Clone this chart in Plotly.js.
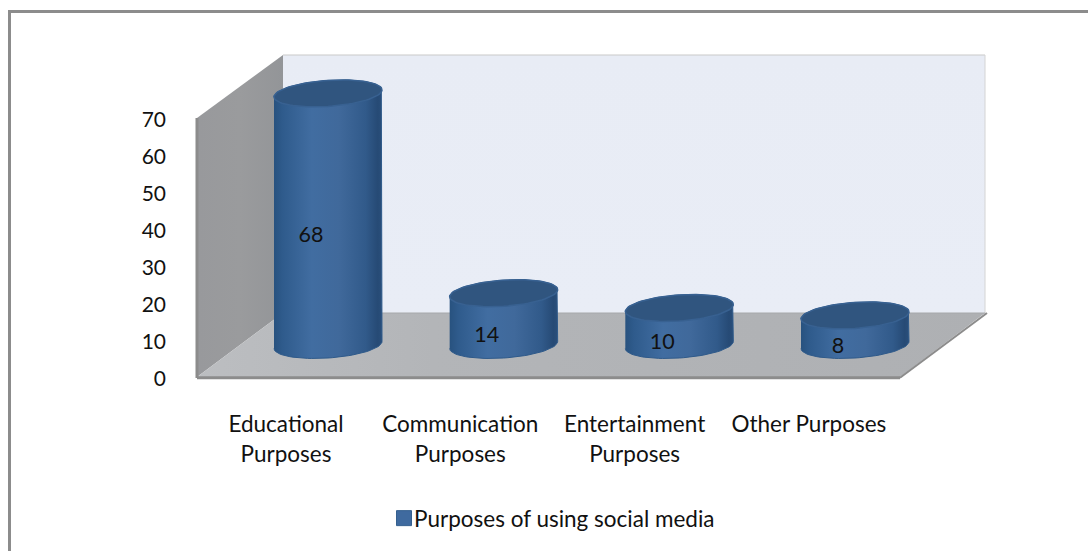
<!DOCTYPE html>
<html>
<head>
<meta charset="utf-8">
<script src="https://cdn.plot.ly/plotly-3.0.1.min.js"></script>
<style>html,body{margin:0;padding:0;background:#fff}#chart{width:1088px;height:551px}</style>
</head>
<body>
<div id="chart"></div>
<script>
// Purposes of using social media, drawn as a pseudo-3D cylinder column chart.
const categories = ["Educational<br>Purposes", "Communication<br>Purposes", "Entertainment<br>Purposes", "Other Purposes"];
const values = [68, 14, 10, 8];
const yTicks = [0, 10, 20, 30, 40, 50, 60, 70];
const seriesName = "Purposes of using social media";

const W = 1088, H = 551;
// The box: front-left corner is the origin, back wall sets the far corner.
const left = 197, right = 985, top_ = 55, bottom = 377;
// Subplot is a little larger than the box so its edges are not clipped.
const plotL = 187, plotR = 995, plotT = 45, plotB = 387;
const pxPerUnitY = (377 - 118) / 70;
const pxPerCat = 175.67;
const firstCentre = 328;
const xAt = px => (px - firstCentre) / pxPerCat;
const yAt = py => (bottom - py) / pxPerUnitY;
const xMin = xAt(left), xMax = xAt(right), yMax = yAt(top_);

// Projection depth of the box, in screen pixels.
const depthX = 86, depthY = 64;
const ddx = depthX / pxPerCat, ddy = depthY / pxPerUnitY;
const floorW = (900 - left) / pxPerCat;
const wallTop = 70;

// Cylinder cross-section: a sheared ellipse, in screen pixels.
const rA = 54, rB = 13, rK = 3.5;
const baseY = 32 / pxPerUnitY;
const arc = (cx, cy, t0, t1, n) => {
  const xs = [], ys = [];
  for (let i = 0; i <= n; i++) {
    const t = t0 + (t1 - t0) * i / n;
    xs.push(cx + rA * Math.cos(t) / pxPerCat);
    ys.push(cy + (rB * Math.sin(t) + rK * Math.cos(t)) / pxPerUnitY);
  }
  return [xs, ys];
};

const poly = (xs, ys, grad, lineCol) => ({
  type: "scatter", mode: "lines", x: xs, y: ys, fill: "toself",
  fillgradient: grad, line: {color: lineCol || "rgba(0,0,0,0)", width: lineCol ? 1 : 0},
  hoverinfo: "skip", showlegend: false
});
const edgeLine = (xs, ys, color, width) => ({
  type: "scatter", mode: "lines", x: xs, y: ys, line: {color, width},
  hoverinfo: "skip", showlegend: false
});

const traces = [];
// Back wall
traces.push(poly([xMin + ddx, xMax, xMax, xMin + ddx, xMin + ddx], [ddy, ddy, yMax, yMax, ddy],
  {type: "vertical", colorscale: [[0, "#e9edf6"], [1, "#e8ecf5"]]}));
// Side wall
traces.push(poly([xMin, xMin + ddx, xMin + ddx, xMin, xMin], [0, ddy, yMax, wallTop, 0],
  {type: "horizontal", colorscale: [[0, "#98999c"], [0.5, "#9a9b9d"], [1, "#939598"]]}));
// Floor
traces.push(poly([xMin, xMin + floorW, xMax, xMin + ddx, xMin], [0, 0, ddy, ddy, 0],
  {type: "horizontal", colorscale: [[0, "#bcbec1"], [0.3, "#b3b5b8"], [1, "#aeb0b3"]]}));

// Box edges, above the walls and beneath the cylinders
const edge = "#8c8c8c";
traces.push(edgeLine([xMin + ddx, xMax], [yMax, yMax], "#c9c9c9", 1));
traces.push(edgeLine([xMax, xMax], [ddy, yMax], "#d4d4d4", 1));
traces.push(edgeLine([xMin + ddx, xMax], [ddy, ddy], "#a6a8ab", 1));
traces.push(edgeLine([xMin, xMin], [-0.3, wallTop], edge, 3));
traces.push(edgeLine([xMin, xMin + floorW], [-0.2, -0.2], edge, 3));
traces.push(edgeLine([xMin + floorW, xMax + 2 / pxPerCat], [-0.2, ddy], edge, 2));

const bodyGrad = {type: "horizontal", colorscale: [
  [0, "#28527f"], [0.08, "#2f5b8c"], [0.35, "#416da1"], [0.6, "#40699b"], [0.85, "#315a8a"], [0.96, "#264a75"], [1, "#2a4f7b"]
]};
values.forEach((v, i) => {
  const [bx, by] = arc(i, baseY, Math.PI, 2 * Math.PI, 40);
  const [tx, ty] = arc(i, baseY + v, 0, Math.PI, 40);
  traces.push(poly(bx.concat(tx), by.concat(ty), bodyGrad, "#2f5a8a"));
  const [ex, ey] = arc(i, baseY + v, 0, 2 * Math.PI, 80);
  traces.push({
    type: "scatter", mode: "lines", x: ex, y: ey, fill: "toself", fillcolor: "#30557f",
    line: {color: "#386191", width: 1.5}, hoverinfo: "skip", showlegend: false
  });
});

// Value labels sit a little left of each cylinder's centre.
traces.push({
  type: "scatter", mode: "text",
  x: values.map((v, i) => i - 17 / pxPerCat),
  y: values.map(v => v / 2 + 14.5 / pxPerUnitY),
  text: values.map(String), textposition: "middle center",
  textfont: {family: "Lato, Carlito, sans-serif", size: 21.5, color: "#111"},
  hoverinfo: "skip", showlegend: false
});

// Legend entry
traces.push({
  type: "scatter", mode: "markers", x: [null], y: [null], name: seriesName,
  marker: {symbol: "square", size: 15, color: "#3f6a9f", line: {color: "#35608f", width: 1}}
});

const toPaperX = px => (px - plotL) / (plotR - plotL);
const toPaperY = py => (plotB - py) / (plotB - plotT);

const shapes = [
  // Outer frame: left and top edges only
  {type: "path", xref: "paper", yref: "paper",
   path: `M ${toPaperX(9.5)} ${toPaperY(H + 2)} L ${toPaperX(9.5)} ${toPaperY(11.5)} L ${toPaperX(W + 2)} ${toPaperY(11.5)}`,
   line: {color: edge, width: 3}}
];

// Category labels centre along the front plane of the box, ahead of the cylinders.
const labelFirst = 286, labelStep = 174.3;

const layout = {
  width: W, height: H,
  margin: {l: plotL, r: W - plotR, t: plotT, b: H - plotB, pad: 0, autoexpand: false},
  paper_bgcolor: "#fff", plot_bgcolor: "rgba(0,0,0,0)",
  showlegend: true,
  legend: {
    xref: "container", yref: "container",
    x: 384 / W, y: 1 - 497 / H, xanchor: "left", yanchor: "top",
    bgcolor: "rgba(0,0,0,0)", font: {family: "Lato, Carlito, sans-serif", size: 22.5, color: "#111"}
  },
  xaxis: {
    range: [xAt(plotL), xAt(plotR)], showgrid: false, zeroline: false, showline: false, ticks: "",
    tickmode: "array",
    tickvals: categories.map((c, i) => xAt(labelFirst + i * labelStep)),
    ticktext: categories.map(c => c.split("<br>").map(s => `<span style="font-size:22.5px">${s}</span>`).join("<br>")),
    tickfont: {family: "Lato, Carlito, sans-serif", size: 23, color: "#111"},
    ticklabelstandoff: 21, automargin: false
  },
  yaxis: {
    range: [yAt(plotB), yAt(plotT)], showgrid: false, zeroline: false, showline: false, ticks: "",
    tickmode: "array", tickvals: yTicks, ticktext: yTicks.map(String),
    tickfont: {family: "Lato, Carlito, sans-serif", size: 21, color: "#111"},
    ticklabelstandoff: 20, ticklabelshift: 2, automargin: false
  },
  shapes
};

Plotly.newPlot("chart", traces, layout, {displayModeBar: false, staticPlot: true}).then(() => {
  // Tighten the gap between the legend swatch and its text.
  const t = document.querySelector(".legendtext");
  if (t) {
    const x = parseFloat(t.getAttribute("x")) || 40;
    t.setAttribute("x", x - 10);
    t.querySelectorAll("tspan[x]").forEach(s => s.setAttribute("x", x - 10));
  }
});
</script>
</body>
</html>
